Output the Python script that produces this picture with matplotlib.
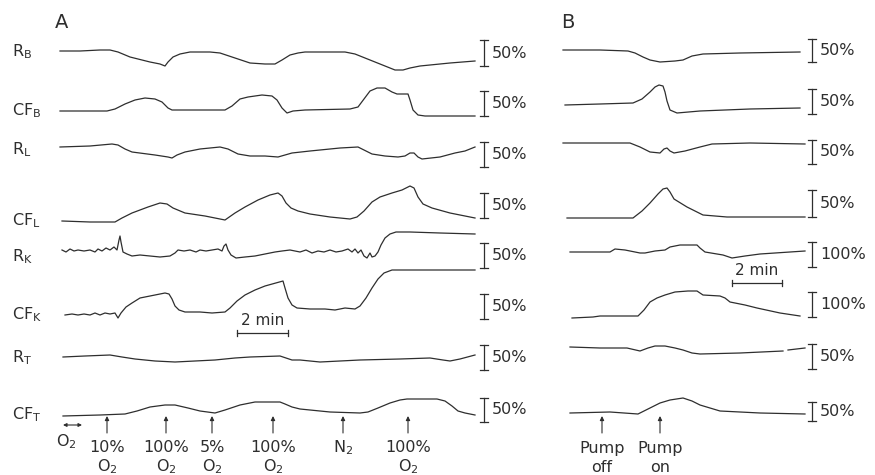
import matplotlib
matplotlib.use("Agg")
import numpy as np
import matplotlib.pyplot as plt

plt.rcParams['font.family'] = ['DejaVu Sans']
plt.rcParams['mathtext.default'] = 'regular'

# traces digitised from the recording, (x, y) in page pixels (y down)
# panel A
a_rb = [(60, 51), (80, 51), (100, 50), (110, 50), (118, 52), (130, 57), (150, 62), (160, 64),
        (165, 66), (168, 62), (173, 57), (180, 54), (190, 52), (210, 52), (220, 53), (235, 58),
        (250, 63), (265, 64), (275, 64), (282, 60), (290, 55), (298, 53), (305, 52), (345, 52),
        (355, 54), (370, 60), (385, 66), (395, 70), (403, 70), (410, 68), (420, 66), (450, 63),
        (475, 61)]
a_cfb = [(60, 111), (107, 111), (115, 109), (125, 104), (135, 100), (145, 98), (155, 99),
         (162, 102), (168, 108), (172, 110), (190, 110), (225, 110), (232, 106), (240, 99),
         (248, 97), (262, 95), (272, 96), (277, 100), (282, 108), (287, 113), (293, 111),
         (305, 110), (350, 109), (358, 107), (364, 99), (370, 91), (377, 88), (385, 88),
         (392, 92), (397, 94), (408, 94), (410, 100), (413, 110), (418, 115), (425, 116),
         (475, 116)]
a_rl = [(60, 147), (90, 146), (112, 144), (118, 145), (125, 149), (132, 152), (155, 155),
        (168, 157), (172, 158), (177, 155), (185, 152), (200, 149), (220, 147), (228, 149),
        (238, 154), (250, 156), (265, 156), (278, 157), (285, 155), (292, 153), (310, 151),
        (340, 148), (358, 147), (364, 150), (372, 154), (385, 156), (398, 157), (405, 156),
        (410, 153), (414, 153), (418, 157), (422, 159), (440, 157), (455, 153), (465, 151),
        (475, 147)]
a_cfl = [(62, 221), (90, 222), (115, 222), (122, 218), (132, 213), (148, 207), (160, 203),
         (167, 204), (173, 208), (185, 213), (205, 216), (225, 220), (235, 213), (245, 207),
         (258, 200), (270, 195), (278, 193), (282, 196), (286, 203), (291, 208), (298, 211),
         (310, 214), (330, 217), (350, 219), (357, 217), (364, 211), (372, 202), (380, 197),
         (392, 193), (402, 190), (410, 186), (414, 188), (418, 197), (423, 204), (432, 208),
         (450, 213), (475, 218)]
a_rk = [(62, 250), (66, 252), (70, 249), (74, 251), (78, 250), (84, 251), (90, 250), (95, 252),
        (98, 249), (102, 251), (106, 248), (110, 250), (114, 247), (117, 250), (119, 240),
        (120, 236), (121, 242), (123, 252), (127, 254), (132, 256), (140, 255), (150, 256),
        (160, 257), (170, 256), (175, 253), (178, 250), (184, 251), (190, 250), (196, 252),
        (200, 250), (206, 251), (212, 250), (218, 249), (222, 251), (224, 246), (226, 244),
        (228, 250), (231, 255), (236, 258), (245, 257), (255, 256), (265, 254), (275, 252),
        (282, 251), (290, 250), (300, 252), (306, 250), (312, 253), (318, 251), (324, 252),
        (330, 250), (336, 252), (342, 251), (348, 249), (352, 252), (355, 249), (358, 253),
        (361, 250), (364, 256), (367, 258), (370, 253), (372, 257), (375, 256), (378, 252),
        (381, 245), (385, 238), (390, 234), (396, 232), (410, 232), (440, 233), (475, 234)]
a_cfk = [(65, 315), (72, 314), (78, 315), (84, 314), (90, 315), (95, 313), (100, 315),
         (105, 313), (110, 314), (115, 313), (118, 318), (121, 313), (126, 307), (132, 303),
         (140, 298), (150, 296), (165, 293), (169, 294), (172, 299), (175, 306), (179, 310),
         (185, 312), (200, 312), (212, 313), (225, 312), (230, 308), (237, 301), (245, 295),
         (255, 290), (265, 286), (283, 281), (285, 288), (288, 298), (292, 305), (297, 308),
         (310, 309), (325, 309), (335, 310), (345, 308), (355, 309), (360, 306), (366, 298),
         (372, 288), (378, 279), (384, 273), (392, 270), (420, 270), (475, 270)]
a_rt = [(63, 357), (85, 356), (110, 355), (122, 357), (135, 359), (155, 361), (175, 362),
        (195, 361), (215, 360), (235, 358), (250, 357), (280, 356), (286, 358), (292, 360),
        (300, 360), (320, 362), (340, 361), (360, 360), (400, 359), (430, 358), (443, 360),
        (450, 361), (460, 359), (475, 355)]
a_cft = [(63, 416), (100, 415), (125, 414), (137, 411), (150, 407), (165, 405), (175, 405),
         (188, 408), (200, 411), (215, 413), (225, 410), (240, 405), (255, 402), (280, 402),
         (285, 404), (292, 407), (300, 409), (330, 412), (360, 413), (368, 412), (378, 408),
         (390, 403), (400, 400), (407, 399), (437, 399), (445, 401), (452, 406), (458, 411),
         (465, 413), (475, 415)]

# panel B
b_rb = [(563, 50), (600, 50), (628, 51), (635, 53), (643, 57), (650, 60), (660, 62), (675, 61),
        (683, 60), (692, 56), (703, 54), (740, 53), (800, 52)]
b_cfb = [(565, 105), (600, 104), (633, 103), (642, 99), (650, 92), (655, 87), (659, 85),
         (663, 86), (665, 92), (667, 101), (670, 110), (677, 113), (700, 111), (750, 109),
         (800, 108)]
b_rl = [(563, 143), (600, 143), (630, 143), (640, 147), (650, 152), (660, 153), (664, 149),
        (667, 148), (670, 151), (674, 153), (685, 151), (700, 147), (712, 144), (750, 143),
        (805, 144)]
b_cfl = [(567, 218), (600, 218), (633, 218), (642, 211), (650, 203), (658, 194), (663, 189),
         (667, 188), (670, 192), (674, 199), (687, 207), (703, 215), (727, 217), (805, 217)]
b_rk = [(570, 252), (610, 252), (615, 249), (625, 250), (640, 253), (645, 253), (655, 251),
        (665, 250), (670, 247), (680, 245), (690, 245), (697, 245), (700, 248), (705, 252),
        (723, 255), (732, 258), (745, 256), (760, 254), (805, 251)]
b_cfk = [(572, 318), (593, 317), (600, 316), (638, 316), (644, 310), (650, 302), (657, 298),
         (665, 295), (675, 292), (688, 291), (697, 291), (703, 295), (720, 296), (725, 298),
         (730, 302), (745, 305), (757, 308), (780, 313), (800, 316)]
b_rt = [(570, 347), (600, 348), (627, 348), (640, 351), (648, 348), (655, 346), (665, 346),
        (675, 348), (683, 350), (692, 353), (700, 354), (740, 353), (783, 351),
        (np.nan, np.nan), (788, 350), (805, 348)]
b_cft = [(570, 413), (610, 412), (638, 414), (644, 411), (650, 408), (660, 403), (670, 400),
         (683, 398), (692, 401), (700, 405), (710, 408), (720, 411), (740, 412), (760, 413),
         (805, 414)]

# row labels and calibration bars
row_labels = ['R_B', 'CF_B', 'R_L', 'CF_L', 'R_K', 'CF_K', 'R_T', 'CF_T']
row_label_y = [52, 111, 150, 221, 257, 315, 358, 415]
a_bars = [(40, 66), (91, 116), (142, 167), (193, 218), (243, 268), (294, 319), (345, 370), (398, 422)]
a_bar_text = ['50%'] * 8
b_bars = [(39, 62), (89, 114), (140, 164), (190, 217), (242, 267), (292, 317), (344, 369), (402, 421)]
b_bar_text = ['50%', '50%', '50%', '50%', '100%', '100%', '50%', '50%']

a_events_x = [107, 166, 212, 273, 343, 408]
a_events_top = ['10%', '100%', '5%', '100%', '$N_2$', '100%']
a_events_bot = ['$O_2$', '$O_2$', '$O_2$', '$O_2$', '', '$O_2$']
b_events_x = [602, 660]
b_events_top = ['Pump', 'Pump']
b_events_bot = ['off', 'on']

fig = plt.figure(figsize=(8.75, 4.75), dpi=100)
ax = fig.add_axes([0, 0, 1, 1])
ax.set_xlim(0, 875)
ax.set_ylim(475, 0)
ax.axis('off')

ink = '#2e2e2e'
traces = [a_rb, a_cfb, a_rl, a_cfl, a_rk, a_cfk, a_rt, a_cft,
          b_rb, b_cfb, b_rl, b_cfl, b_rk, b_cfk, b_rt, b_cft]
for tr in traces:
    p = np.array(tr, dtype=float)
    ax.plot(p[:, 0], p[:, 1], color=ink, lw=0.9, solid_joinstyle='round')

fs = 11.5
for lab, y in zip(row_labels, row_label_y):
    name, sub = lab.split('_')
    ax.text(12, y, '$%s_{%s}$' % (name, sub), fontsize=fs, color=ink, ha='left', va='center')

def cal_bar(x, y0, y1, txt):
    ax.plot([x, x], [y0, y1], color=ink, lw=0.9)
    ax.plot([x - 4, x + 4], [y0, y0], color=ink, lw=0.9)
    ax.plot([x - 4, x + 4], [y1, y1], color=ink, lw=0.9)
    ax.text(x + 8, (y0 + y1) / 2, txt, fontsize=fs, color=ink, ha='left', va='center')

for (y0, y1), t in zip(a_bars, a_bar_text):
    cal_bar(484, y0, y1, t)
for (y0, y1), t in zip(b_bars, b_bar_text):
    cal_bar(812, y0, y1, t)

# time bars
def time_bar(x0, x1, y):
    ax.plot([x0, x1], [y, y], color=ink, lw=0.9)
    ax.plot([x0, x0], [y - 3, y + 3], color=ink, lw=0.9)
    ax.plot([x1, x1], [y - 3, y + 3], color=ink, lw=0.9)
    ax.text((x0 + x1) / 2, y - 5, '2 min', fontsize=fs - 0.5, color=ink, ha='center', va='bottom')

time_bar(237, 288, 333)
time_bar(732, 782, 283)

ax.text(55, 23, 'A', fontsize=14, color=ink, ha='left', va='center')
ax.text(561, 23, 'B', fontsize=14, color=ink, ha='left', va='center')

def event(x, top, bot):
    ax.annotate('', xy=(x, 416), xytext=(x, 433),
                arrowprops=dict(arrowstyle='-|>', lw=0.8, color=ink, mutation_scale=6,
                                shrinkA=0, shrinkB=0))
    ax.text(x, 448, top, fontsize=fs, color=ink, ha='center', va='center')
    if bot:
        ax.text(x, 467, bot, fontsize=fs, color=ink, ha='center', va='center')

for x, t, b in zip(a_events_x, a_events_top, a_events_bot):
    event(x, t, b)
for x, t, b in zip(b_events_x, b_events_top, b_events_bot):
    event(x, t, b)

# O2 switch marker
ax.annotate('', xy=(63, 425), xytext=(82, 425),
            arrowprops=dict(arrowstyle='<|-|>', lw=0.8, color=ink, mutation_scale=5,
                            shrinkA=0, shrinkB=0))
ax.text(56, 442, '$O_2$', fontsize=fs, color=ink, ha='left', va='center')

fig.savefig('out.png', dpi=100, facecolor='white')
